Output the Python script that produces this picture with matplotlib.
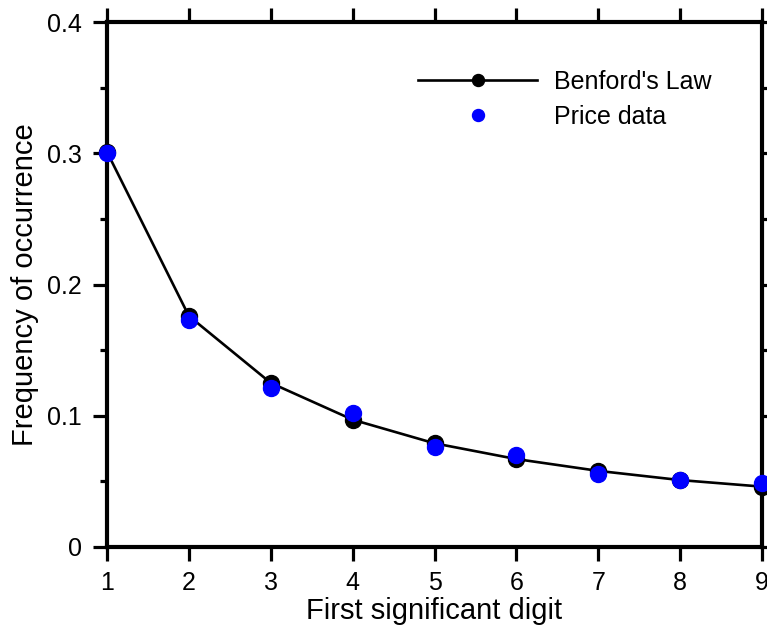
import matplotlib
matplotlib.use("Agg")
import matplotlib.pyplot as plt
from matplotlib.ticker import MultipleLocator

plt.rcParams['font.family'] = ['Liberation Sans', 'DejaVu Sans']

digits = [1, 2, 3, 4, 5, 6, 7, 8, 9]
benford = [0.301, 0.176, 0.125, 0.097, 0.079, 0.067, 0.058, 0.051, 0.046]
price = [0.300, 0.173, 0.121, 0.102, 0.076, 0.070, 0.056, 0.051, 0.049]
xticks = [1, 2, 3, 4, 5, 6, 7, 8, 9]
yticks = [0, 0.1, 0.2, 0.3, 0.4]
yticklabels = ['0', '0.1', '0.2', '0.3', '0.4']

fig = plt.figure(figsize=(7.67, 6.35), dpi=100)
ax = fig.add_axes([107/767, 88/635, (762-107)/767, (547-22)/635])

ax.plot(digits, benford, color='black', lw=1.9, marker='o', ms=11.5,
        mfc='black', mec='black', label="Benford's Law", clip_on=False, zorder=5)
ax.plot(digits, price, ls='none', marker='o', ms=11.5, mfc='#0000ff',
        mec='#0000ff', label='Price data', clip_on=False, zorder=6)

ax.set_xlim(1, 9)
ax.set_ylim(0, 0.4)
ax.set_xticks(xticks)
ax.set_xticklabels([str(v) for v in xticks])
ax.set_yticks(yticks)
ax.set_yticklabels(yticklabels)
ax.yaxis.set_minor_locator(MultipleLocator(0.05))

for s in ax.spines.values():
    s.set_linewidth(3)

ax.tick_params(axis='both', which='major', direction='out', length=10, width=2.3,
               labelsize=18, top=True, right=True)
ax.tick_params(axis='y', which='major', pad=8)
ax.tick_params(axis='x', which='major', pad=7)
ax.tick_params(axis='y', which='minor', direction='out', length=5, width=2.3,
               left=True, right=True)

ax.set_xlabel('First significant digit', fontsize=21, labelpad=2)
ax.set_ylabel('Frequency of occurrence', fontsize=21, labelpad=6)

leg = ax.legend(loc='upper left', bbox_to_anchor=(418/767, 1 - 70/635),
                bbox_transform=fig.transFigure, frameon=False,
                fontsize=18, handlelength=4.76, handletextpad=0.68,
                labelspacing=0.44, borderaxespad=0, borderpad=0,
                markerscale=0.75)

fig.savefig('out.png', dpi=100)
